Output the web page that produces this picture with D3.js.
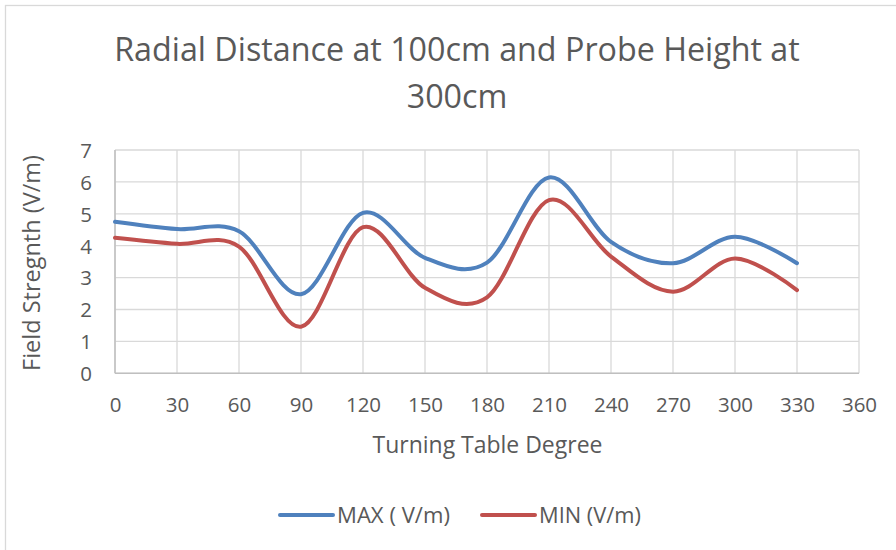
<!DOCTYPE html>
<html>
<head>
<meta charset="utf-8">
<script src="https://cdn.jsdelivr.net/npm/d3@7"></script>
<style>
  html, body { margin: 0; padding: 0; background: #fff; }
  svg { display: block; }
  text { font-family: "Open Sans", "DejaVu Sans", sans-serif; fill: #595959; }
</style>
</head>
<body>
<svg id="chart" width="896" height="550"></svg>
<script>
const titleLines = ["Radial Distance at 100cm and Probe Height at", "300cm"];
const xAxisTitle = "Turning Table Degree";
const yAxisTitle = "Field Stregnth (V/m)";
const seriesNames = ["MAX ( V/m)", "MIN (V/m)"];
const seriesColors = ["#4F81BD", "#C0504D"];
const degrees = [0, 30, 60, 90, 120, 150, 180, 210, 240, 270, 300, 330];
const maxValues = [4.75, 4.52, 4.45, 2.48, 5.03, 3.62, 3.47, 6.14, 4.12, 3.45, 4.28, 3.45];
const minValues = [4.25, 4.06, 3.97, 1.46, 4.58, 2.68, 2.38, 5.43, 3.66, 2.56, 3.60, 2.61];
const xTicks = [0, 30, 60, 90, 120, 150, 180, 210, 240, 270, 300, 330, 360];
const yTicks = [0, 1, 2, 3, 4, 5, 6, 7];

const svg = d3.select("#chart");
const plot = { left: 115, right: 859, top: 150, bottom: 373.3 };

// outer chart border
svg.append("rect")
  .attr("x", 5.5).attr("y", 5.5).attr("width", 900).attr("height", 560)
  .attr("fill", "#fff").attr("stroke", "#D9D9D9").attr("stroke-width", 1.3);

function fitText(sel, target) {
  sel.style("font-size", "20px");
  const w = sel.node().getComputedTextLength();
  sel.style("font-size", (20 * target / w) + "px");
  return sel;
}

const x = d3.scaleLinear().domain([0, 360]).range([plot.left, plot.right]);
const y = d3.scaleLinear().domain([0, 7]).range([plot.bottom, plot.top]);

// gridlines
const g = svg.append("g");
g.selectAll("line.h").data(yTicks).join("line")
  .attr("x1", plot.left).attr("x2", plot.right)
  .attr("y1", d => y(d)).attr("y2", d => y(d))
  .attr("stroke", "#D9D9D9").attr("stroke-width", 1.3);
g.selectAll("line.v").data(xTicks).join("line")
  .attr("y1", plot.top).attr("y2", plot.bottom)
  .attr("x1", d => x(d)).attr("x2", d => x(d))
  .attr("stroke", "#D9D9D9").attr("stroke-width", 1.3);
// axis lines
g.append("line").attr("x1", plot.left).attr("x2", plot.right)
  .attr("y1", plot.bottom).attr("y2", plot.bottom)
  .attr("stroke", "#BFBFBF").attr("stroke-width", 1.5);
g.append("line").attr("x1", plot.left).attr("x2", plot.left)
  .attr("y1", plot.top).attr("y2", plot.bottom)
  .attr("stroke", "#BFBFBF").attr("stroke-width", 1.5);

// tick labels
const xAxis = d3.axisBottom(x).tickValues(xTicks).tickFormat(d3.format("d")).tickSize(0).tickPadding(0);
const xg = svg.append("g").attr("transform", `translate(0,${plot.bottom})`).call(xAxis);
xg.select(".domain").remove();
xg.selectAll("text").attr("y", 0).attr("dy", 0)
  .attr("transform", "translate(0,39)")
  .style("font-size", "20.5px").style("font-family", "'Open Sans', sans-serif").attr("fill", "#595959");

const yAxis = d3.axisLeft(y).tickValues(yTicks).tickFormat(d3.format("d")).tickSize(0).tickPadding(0);
const yg = svg.append("g").attr("transform", `translate(${plot.left - 23},0)`).call(yAxis);
yg.select(".domain").remove();
yg.selectAll("text").attr("x", 0).attr("dy", "0.36em")
  .style("font-size", "20.5px").style("font-family", "'Open Sans', sans-serif").attr("fill", "#595959");

// lines
const line = d3.line()
  .x(d => x(d[0])).y(d => y(d[1]))
  .curve(d3.curveCardinal.tension(0));
[maxValues, minValues].forEach((vals, i) => {
  svg.append("path")
    .datum(degrees.map((d, j) => [d, vals[j]]))
    .attr("d", line)
    .attr("fill", "none")
    .attr("stroke", seriesColors[i])
    .attr("stroke-width", 4)
    .attr("stroke-linecap", "round")
    .attr("stroke-linejoin", "round");
});

// title
const t1 = svg.append("text").attr("x", 457).attr("y", 60.5).attr("text-anchor", "middle").text(titleLines[0]);
fitText(t1, 686);
const fs = parseFloat(t1.style("font-size"));
svg.append("text").attr("x", 457).attr("y", 107.5).attr("text-anchor", "middle")
  .style("font-size", fs + "px").text(titleLines[1]);

// axis titles
const xt = svg.append("text").attr("x", 487.5).attr("y", 452.5).attr("text-anchor", "middle").text(xAxisTitle);
fitText(xt, 230);
const yt = svg.append("text").attr("transform", "translate(40,263) rotate(-90)")
  .attr("text-anchor", "middle").text(yAxisTitle);
fitText(yt, 216);

// legend
const legend = [
  { x1: 280, x2: 333, tx: 337, w: 113 },
  { x1: 482, x2: 535, tx: 539, w: 102 }
];
legend.forEach((L, i) => {
  svg.append("line").attr("x1", L.x1).attr("x2", L.x2).attr("y1", 515).attr("y2", 515)
    .attr("stroke", seriesColors[i]).attr("stroke-width", 4).attr("stroke-linecap", "round");
  const lt = svg.append("text").attr("x", L.tx).attr("y", 522.5).text(seriesNames[i]);
  fitText(lt, L.w);
});
</script>
</body>
</html>
